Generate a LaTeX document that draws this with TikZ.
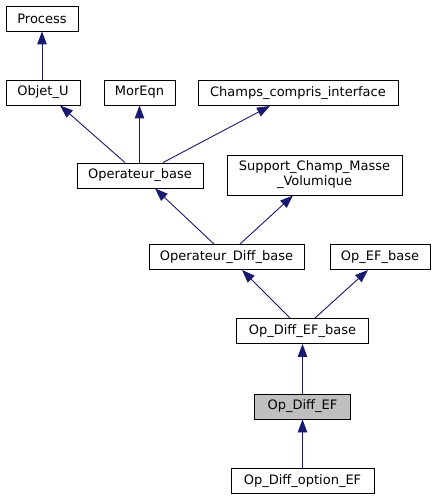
\documentclass[tikz,border=0pt]{standalone}
\usepackage{fontspec}
\setmainfont{DejaVu Sans}
\usetikzlibrary{arrows.meta}
\definecolor{edgeblue}{HTML}{191970}
\definecolor{curgray}{HTML}{BFBFBF}
\begin{document}
\begin{tikzpicture}[x=1pt,y=-1pt,
  cls/.style={draw=black, line width=0.9pt, fill=white, rectangle, inner sep=0pt,
    minimum height=25pt, font=\fontsize{13}{15}\selectfont, align=center},
  cur/.style={cls, fill=curgray},
  edge/.style={draw=edgeblue, line width=0.9pt, -{Triangle[length=13pt,width=9.5pt]}}]
\useasboundingbox (0,0) rectangle (436,500);
\node[cls, minimum width=72pt] (process) at (42,18.5) {Process};
\node[cls, minimum width=74pt] (objetu) at (43,92.5) {Objet\_U};
\node[cls, minimum width=71pt] (moreqn) at (139.5,92.5) {MorEqn};
\node[cls, minimum width=200pt] (champs) at (298,93) {Champs\_compris\_interface};
\node[cls, minimum width=126pt] (opbase) at (140,175.5) {Operateur\_base};
\node[cls, minimum width=175pt, minimum height=40pt] (support) at (314.5,175) {Support\_Champ\_Masse\\\_Volumique};
\node[cls, minimum width=155pt] (opdiffbase) at (226.5,257) {Operateur\_Diff\_base};
\node[cls, minimum width=100pt] (opefbase) at (380,257) {Op\_EF\_base};
\node[cls, minimum width=132pt] (opdiffefbase) at (302.5,331) {Op\_Diff\_EF\_base};
\node[cur, minimum width=96pt] (opdiffef) at (302.5,406.5) {Op\_Diff\_EF};
\node[cls, minimum width=143pt] (opdiffoption) at (302.5,481) {Op\_Diff\_option\_EF};

\draw[edge] (objetu.north -| process.south) -- (process.south);
\draw[edge] ([xshift=-15pt]opbase.north) -- ([xshift=17pt]objetu.south);
\draw[edge] (opbase.north -| moreqn.south) -- (moreqn.south);
\draw[edge] ([xshift=23pt]opbase.north) -- ([xshift=-28pt]champs.south);
\draw[edge] ([xshift=-12.5pt]opdiffbase.north) -- ([xshift=15pt]opbase.south);
\draw[edge] ([xshift=13.5pt]opdiffbase.north) -- ([xshift=-21.5pt]support.south);
\draw[edge] ([xshift=-12.5pt]opdiffefbase.north) -- ([xshift=15.5pt]opdiffbase.south);
\draw[edge] ([xshift=12.5pt]opdiffefbase.north) -- ([xshift=-12pt]opefbase.south);
\draw[edge] (opdiffef.north) -- (opdiffefbase.south);
\draw[edge] (opdiffoption.north) -- (opdiffef.south);
\end{tikzpicture}
\end{document}
